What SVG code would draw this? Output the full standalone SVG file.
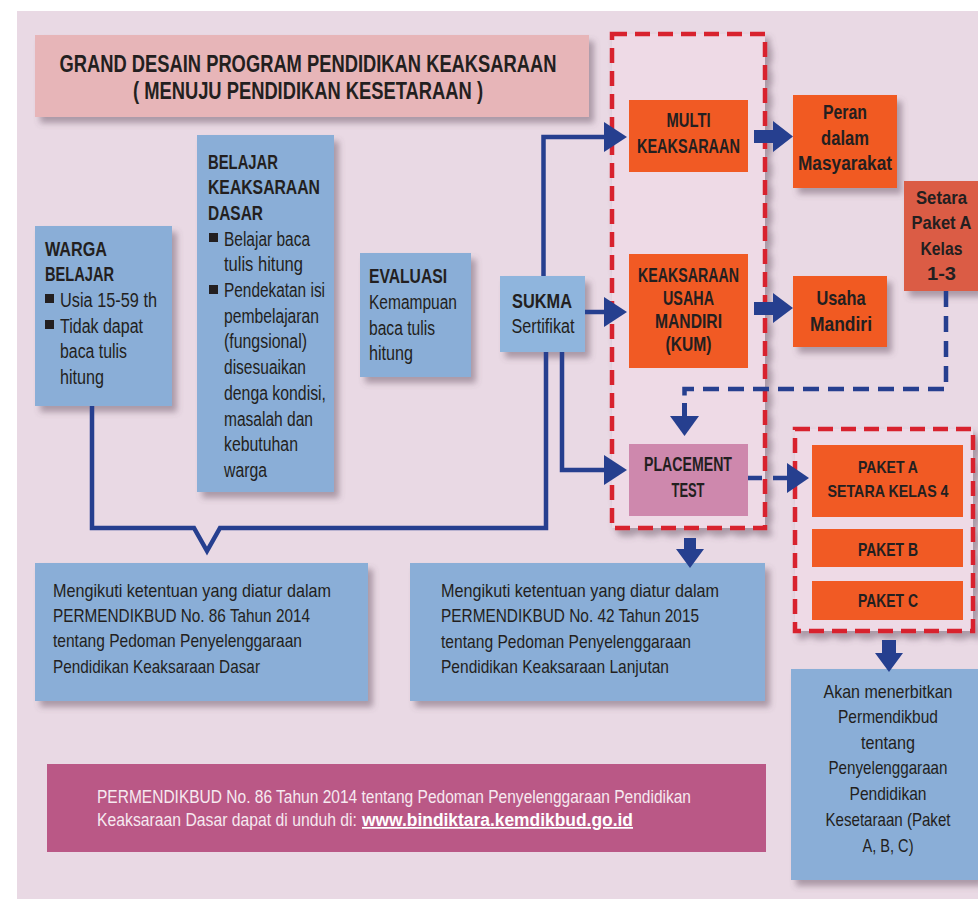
<svg xmlns="http://www.w3.org/2000/svg" width="978" height="899" viewBox="0 0 978 899">
<defs>
<filter id="sh" x="-10%" y="-10%" width="130%" height="130%">
<feDropShadow dx="5" dy="6" stdDeviation="3" flood-color="#5e4a5c" flood-opacity="0.45"/>
</filter>
<style>
text{font-family:"Liberation Sans Narrow","Liberation Sans",Arial,sans-serif;fill:#231F20}
.b{font-weight:bold}
.c{text-anchor:middle}
.blue{fill:#8AAED7}
.org{fill:#F15A24}
.red{fill:#EEDAE6;stroke:#D8232F;stroke-width:4.5;stroke-dasharray:15 8}
.ln{fill:none;stroke:#263F8F;stroke-width:4.5}
.dl{fill:none;stroke:#263F8F;stroke-width:4.5;stroke-dasharray:16 9}
.ah{fill:#263F8F}
.bul{fill:#231F20}
.w{fill:#F6E9F0}
</style>
</defs>
<rect x="0" y="0" width="978" height="899" fill="#ffffff"/>
<rect x="17" y="11" width="961" height="888" fill="#E9D9E4"/>

<g id="title">
<rect x="35" y="35" width="554" height="82" fill="#E7B5B8" filter="url(#sh)"/>
<text class="b c" x="308" y="72" font-size="23.5" textLength="497" lengthAdjust="spacingAndGlyphs">GRAND DESAIN PROGRAM PENDIDIKAN KEAKSARAAN</text>
<text class="b c" x="308" y="99" font-size="23.5" textLength="350" lengthAdjust="spacingAndGlyphs">( MENUJU PENDIDIKAN KESETARAAN )</text>
</g>

<g id="group-keaksaraan-lanjutan">
<rect class="red" x="612" y="34" width="153" height="494" filter="url(#sh)"/>
</g>
<g id="group-kesetaraan">
<rect class="red" x="795" y="429" width="178" height="202" filter="url(#sh)"/>
</g>

<g id="warga-belajar">
<rect class="blue" x="35" y="226" width="137" height="180" filter="url(#sh)"/>
<text class="b" x="45" y="256" font-size="20.5" textLength="62" lengthAdjust="spacingAndGlyphs">WARGA</text>
<text class="b" x="45" y="281" font-size="20.5" textLength="69" lengthAdjust="spacingAndGlyphs">BELAJAR</text>
<rect class="bul" x="45" y="294" width="9" height="9"/>
<text x="60" y="307" font-size="19.5" textLength="97" lengthAdjust="spacingAndGlyphs">Usia 15-59 th</text>
<rect class="bul" x="45" y="320" width="9" height="9"/>
<text x="60" y="333" font-size="19.5" textLength="83" lengthAdjust="spacingAndGlyphs">Tidak dapat</text>
<text x="60" y="358" font-size="19.5" textLength="67" lengthAdjust="spacingAndGlyphs">baca tulis</text>
<text x="60" y="384" font-size="19.5" textLength="44" lengthAdjust="spacingAndGlyphs">hitung</text>
</g>

<g id="belajar-keaksaraan-dasar">
<rect class="blue" x="197" y="135" width="137" height="357" filter="url(#sh)"/>
<text class="b" x="208" y="169" font-size="20.5" textLength="70" lengthAdjust="spacingAndGlyphs">BELAJAR</text>
<text class="b" x="208" y="194" font-size="20.5" textLength="112" lengthAdjust="spacingAndGlyphs">KEAKSARAAN</text>
<text class="b" x="208" y="220" font-size="20.5" textLength="55" lengthAdjust="spacingAndGlyphs">DASAR</text>
<rect class="bul" x="209" y="233" width="9" height="9"/>
<text x="224" y="246" font-size="19.5" textLength="86" lengthAdjust="spacingAndGlyphs">Belajar baca</text>
<text x="224" y="271" font-size="19.5" textLength="79" lengthAdjust="spacingAndGlyphs">tulis hitung</text>
<rect class="bul" x="209" y="285" width="9" height="9"/>
<text x="224" y="297" font-size="19.5" textLength="101" lengthAdjust="spacingAndGlyphs">Pendekatan isi</text>
<text x="224" y="323" font-size="19.5" textLength="95" lengthAdjust="spacingAndGlyphs">pembelajaran</text>
<text x="224" y="348" font-size="19.5" textLength="83" lengthAdjust="spacingAndGlyphs">(fungsional)</text>
<text x="224" y="374" font-size="19.5" textLength="82" lengthAdjust="spacingAndGlyphs">disesuaikan</text>
<text x="224" y="400" font-size="19.5" textLength="102" lengthAdjust="spacingAndGlyphs">denga kondisi,</text>
<text x="224" y="426" font-size="19.5" textLength="89" lengthAdjust="spacingAndGlyphs">masalah dan</text>
<text x="224" y="451" font-size="19.5" textLength="74" lengthAdjust="spacingAndGlyphs">kebutuhan</text>
<text x="224" y="477" font-size="19.5" textLength="43" lengthAdjust="spacingAndGlyphs">warga</text>
</g>

<g id="evaluasi">
<rect class="blue" x="360" y="253" width="111" height="124" filter="url(#sh)"/>
<text class="b" x="369" y="283" font-size="20.5" textLength="78" lengthAdjust="spacingAndGlyphs">EVALUASI</text>
<text x="369" y="309" font-size="19.5" textLength="88" lengthAdjust="spacingAndGlyphs">Kemampuan</text>
<text x="369" y="335" font-size="19.5" textLength="66" lengthAdjust="spacingAndGlyphs">baca tulis</text>
<text x="369" y="360" font-size="19.5" textLength="44" lengthAdjust="spacingAndGlyphs">hitung</text>
</g>

<g id="sukma">
<rect x="500" y="276" width="85" height="76" fill="#8FB5DD" filter="url(#sh)"/>
<text class="b c" x="542" y="308" font-size="20.5" textLength="60" lengthAdjust="spacingAndGlyphs">SUKMA</text>
<text class="c" x="543" y="333" font-size="19.5" textLength="63" lengthAdjust="spacingAndGlyphs">Sertifikat</text>
</g>

<g id="multi-keaksaraan">
<rect class="org" x="629" y="100" width="119" height="72"/>
<text class="b c" x="688.5" y="127" font-size="20.5" textLength="44" lengthAdjust="spacingAndGlyphs">MULTI</text>
<text class="b c" x="688.5" y="153" font-size="20.5" textLength="103" lengthAdjust="spacingAndGlyphs">KEAKSARAAN</text>
</g>

<g id="peran-dalam-masyarakat">
<rect class="org" x="793" y="95" width="104" height="93" filter="url(#sh)"/>
<text class="b c" x="845" y="119" font-size="20" textLength="44" lengthAdjust="spacingAndGlyphs">Peran</text>
<text class="b c" x="845" y="145" font-size="20" textLength="48" lengthAdjust="spacingAndGlyphs">dalam</text>
<text class="b c" x="845" y="170" font-size="20" textLength="94" lengthAdjust="spacingAndGlyphs">Masyarakat</text>
</g>

<g id="setara-paket-a">
<rect x="904" y="181" width="74" height="110" fill="#DB5B45" filter="url(#sh)"/>
<text class="b c" x="941.5" y="204" font-size="18.5" textLength="51" lengthAdjust="spacingAndGlyphs">Setara</text>
<text class="b c" x="941.5" y="229" font-size="18.5" textLength="60" lengthAdjust="spacingAndGlyphs">Paket A</text>
<text class="b c" x="941.5" y="255" font-size="18.5" textLength="42" lengthAdjust="spacingAndGlyphs">Kelas</text>
<text class="b c" x="941.5" y="280" font-size="18.5" textLength="29" lengthAdjust="spacingAndGlyphs">1-3</text>
</g>

<g id="kum">
<rect class="org" x="629" y="254" width="119" height="114"/>
<text class="b c" x="688.5" y="282" font-size="20.5" textLength="101" lengthAdjust="spacingAndGlyphs">KEAKSARAAN</text>
<text class="b c" x="688.5" y="305" font-size="20.5" textLength="51" lengthAdjust="spacingAndGlyphs">USAHA</text>
<text class="b c" x="688.5" y="328" font-size="20.5" textLength="67" lengthAdjust="spacingAndGlyphs">MANDIRI</text>
<text class="b c" x="688.5" y="351" font-size="20.5" textLength="46" lengthAdjust="spacingAndGlyphs">(KUM)</text>
</g>

<g id="usaha-mandiri">
<rect class="org" x="793" y="276" width="94" height="71" filter="url(#sh)"/>
<text class="b c" x="841" y="305" font-size="21" textLength="49" lengthAdjust="spacingAndGlyphs">Usaha</text>
<text class="b c" x="841" y="331" font-size="21" textLength="62" lengthAdjust="spacingAndGlyphs">Mandiri</text>
</g>

<g id="placement-test">
<rect x="629" y="444" width="119" height="72" fill="#CE88AD"/>
<text class="b c" x="688" y="471" font-size="20.5" textLength="88" lengthAdjust="spacingAndGlyphs">PLACEMENT</text>
<text class="b c" x="688" y="497" font-size="20.5" textLength="33" lengthAdjust="spacingAndGlyphs">TEST</text>
</g>

<g id="paket-a">
<rect class="org" x="812" y="445" width="151" height="72"/>
<text class="b c" x="888" y="473" font-size="17" textLength="60" lengthAdjust="spacingAndGlyphs">PAKET A</text>
<text class="b c" x="888" y="497" font-size="17" textLength="121" lengthAdjust="spacingAndGlyphs">SETARA KELAS 4</text>
</g>
<g id="paket-b">
<rect class="org" x="812" y="529" width="151" height="38"/>
<text class="b c" x="888" y="556" font-size="19" textLength="60" lengthAdjust="spacingAndGlyphs">PAKET B</text>
</g>
<g id="paket-c">
<rect class="org" x="812" y="581" width="151" height="39"/>
<text class="b c" x="888" y="607" font-size="19" textLength="60" lengthAdjust="spacingAndGlyphs">PAKET C</text>
</g>

<g id="permendikbud-86">
<rect class="blue" x="35" y="563" width="333" height="138" filter="url(#sh)"/>
<text x="53" y="597" font-size="19" textLength="278" lengthAdjust="spacingAndGlyphs">Mengikuti ketentuan yang diatur dalam</text>
<text x="53" y="622" font-size="19" textLength="257" lengthAdjust="spacingAndGlyphs">PERMENDIKBUD No. 86 Tahun 2014</text>
<text x="53" y="647" font-size="19" textLength="249" lengthAdjust="spacingAndGlyphs">tentang Pedoman Penyelenggaraan</text>
<text x="53" y="673" font-size="19" textLength="207" lengthAdjust="spacingAndGlyphs">Pendidikan Keaksaraan Dasar</text>
</g>

<g id="permendikbud-42">
<rect class="blue" x="410" y="563" width="355" height="138" filter="url(#sh)"/>
<text x="441" y="597" font-size="19" textLength="278" lengthAdjust="spacingAndGlyphs">Mengikuti ketentuan yang diatur dalam</text>
<text x="441" y="622" font-size="19" textLength="258" lengthAdjust="spacingAndGlyphs">PERMENDIKBUD No. 42 Tahun 2015</text>
<text x="441" y="648" font-size="19" textLength="250" lengthAdjust="spacingAndGlyphs">tentang Pedoman Penyelenggaraan</text>
<text x="441" y="673" font-size="19" textLength="228" lengthAdjust="spacingAndGlyphs">Pendidikan Keaksaraan Lanjutan</text>
</g>

<g id="akan-menerbitkan">
<rect class="blue" x="791" y="669" width="187" height="211" filter="url(#sh)"/>
<text class="c" x="888" y="698" font-size="18.5" textLength="129" lengthAdjust="spacingAndGlyphs">Akan menerbitkan</text>
<text class="c" x="888" y="723" font-size="18.5" textLength="100" lengthAdjust="spacingAndGlyphs">Permendikbud</text>
<text class="c" x="888" y="749" font-size="18.5" textLength="54" lengthAdjust="spacingAndGlyphs">tentang</text>
<text class="c" x="888" y="774" font-size="18.5" textLength="119" lengthAdjust="spacingAndGlyphs">Penyelenggaraan</text>
<text class="c" x="888" y="800" font-size="18.5" textLength="77" lengthAdjust="spacingAndGlyphs">Pendidikan</text>
<text class="c" x="888" y="826" font-size="18.5" textLength="125" lengthAdjust="spacingAndGlyphs">Kesetaraan (Paket</text>
<text class="c" x="888" y="852" font-size="18.5" textLength="51" lengthAdjust="spacingAndGlyphs">A, B, C)</text>
</g>

<g id="download-note">
<rect x="47" y="764" width="719" height="88" fill="#BA5886"/>
<text class="w" x="97" y="803" font-size="17.5" textLength="594" lengthAdjust="spacingAndGlyphs">PERMENDIKBUD No. 86 Tahun 2014 tentang Pedoman Penyelenggaraan Pendidikan</text>
<text class="w" x="97" y="826" font-size="17.5" textLength="260" lengthAdjust="spacingAndGlyphs">Keaksaraan Dasar dapat di unduh di:</text>
<text class="b" x="362" y="826" font-size="17.5" style="fill:#FFFFFF" text-decoration="underline" textLength="271" lengthAdjust="spacingAndGlyphs">www.bindiktara.kemdikbud.go.id</text>
</g>

<g id="connectors">
<path class="ln" d="M92,406 V528 H194 L207,551 L220,528 H546 V352"/>
<path class="ln" d="M543.5,276 V137 H608"/>
<polygon class="ah" points="604,122 627,137 604,152"/>
<path class="ln" d="M585,312 H608"/>
<polygon class="ah" points="604,297 627,312 604,327"/>
<path class="ln" d="M562,352 V470 H608"/>
<polygon class="ah" points="604,455 627,470 604,485"/>
<polygon class="ah" points="754,130 773,130 773,121 793,136.5 773,152 773,143 754,143"/>
<polygon class="ah" points="754,302 773,302 773,293 793,308 773,323 773,315 754,315"/>
<path class="dl" d="M946,291 V389 H684.5 V398"/>
<rect class="ah" x="682" y="403" width="5" height="14"/>
<polygon class="ah" points="670,416 699,416 684.5,436"/>
<path class="dl" d="M748,478 H790" style="stroke-dasharray:14 11"/>
<polygon class="ah" points="787,463 809,478 787,493"/>
<polygon class="ah" points="684,538 696,538 696,549 704,549 690,568 676,549 684,549"/>
<polygon class="ah" points="882,640 896,640 896,653 903,653 889,672 875,653 882,653"/>
</g>
</svg>
